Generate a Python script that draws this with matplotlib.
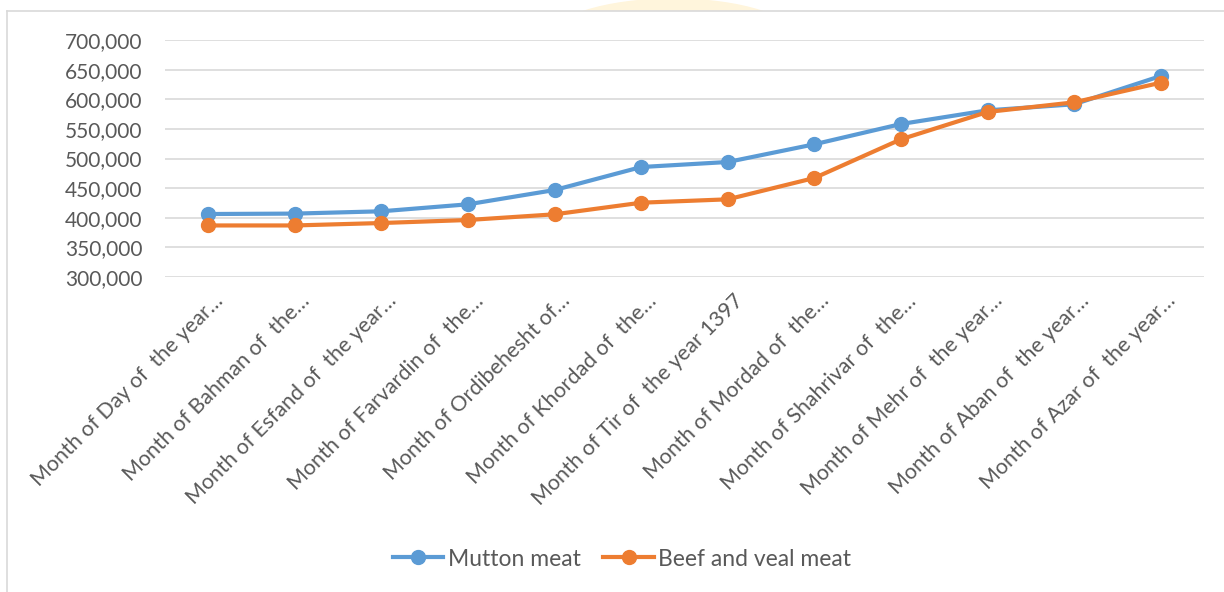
import numpy as np
import matplotlib.pyplot as plt
from matplotlib.lines import Line2D
from matplotlib.patches import Ellipse, Rectangle
from matplotlib.ticker import FuncFormatter

plt.rcParams['font.family'] = ['Lato', 'DejaVu Sans']

months = [
    "Month of Day of  the year\u2026",
    "Month of Bahman of  the\u2026",
    "Month of Esfand of  the year\u2026",
    "Month of Farvardin of  the\u2026",
    "Month of Ordibehesht of\u2026",
    "Month of Khordad of  the\u2026",
    "Month of Tir of  the year 1397",
    "Month of Mordad of  the\u2026",
    "Month of Shahrivar of  the\u2026",
    "Month of Mehr of  the year\u2026",
    "Month of Aban of  the year\u2026",
    "Month of Azar of  the year\u2026",
]
mutton = [406300, 407000, 410900, 422700, 446800, 485600,
          494100, 524000, 558200, 581300, 591500, 639200]
beef = [387000, 387000, 391100, 396200, 405800, 425400,
        431100, 467100, 532400, 578500, 594800, 627900]
yticks = [300000, 350000, 400000, 450000, 500000, 550000, 600000, 650000, 700000]

blue = '#5B9BD5'
orange = '#ED7D31'
txt = '#595959'

fig = plt.figure(figsize=(12.24, 5.92), dpi=100)

# faint watermark peeking above the chart, then the chart's white area and border
top = 1 - 11 / 592
fig.patches.append(Ellipse((673 / 1224, 1 - 40 / 592), 250 / 1224, 82 / 592,
                           transform=fig.transFigure, color='#FFF5DC', zorder=0))
fig.patches.append(Rectangle((7 / 1224, 0), 1, top, transform=fig.transFigure,
                             color='white', zorder=0.5))
fig.lines.append(Line2D([7 / 1224, 1], [top, top], transform=fig.transFigure,
                        color='#D9D9D9', lw=1.2, zorder=1))
fig.lines.append(Line2D([7 / 1224] * 2, [0, top], transform=fig.transFigure,
                        color='#D9D9D9', lw=1.2, zorder=1))

ax = fig.add_axes([165 / 1224, 1 - 277 / 592, (1204 - 165) / 1224, (277 - 40) / 592], zorder=2)
ax.set_facecolor('none')

x = np.arange(len(months))
ax.plot(x, mutton, color=blue, lw=3, marker='o', ms=10, label='Mutton meat', zorder=3)
ax.plot(x, beef, color=orange, lw=3, marker='o', ms=10, label='Beef and veal meat', zorder=4)

ax.set_xlim(-0.5, len(months) - 0.5)
ax.set_ylim(300000, 700000)
ax.set_yticks(yticks)
ax.yaxis.set_major_formatter(FuncFormatter(lambda v, p: f"{int(v):,}"))
ax.grid(axis='y', color='#D9D9D9', lw=1.2)
ax.set_axisbelow(True)
for s in ax.spines.values():
    s.set_visible(False)
ax.tick_params(axis='both', length=0, colors=txt, labelsize=15)
ax.tick_params(axis='y', pad=16)

ax.set_xticks(x)
ax.set_xticklabels(months, rotation=45, ha='right', va='top', rotation_mode='anchor',
                   fontsize=15.4)
for lab in ax.get_xticklabels():
    lab.set_color(txt)
ax.tick_params(axis='x', pad=10)
import matplotlib.transforms as mtransforms
shift = mtransforms.ScaledTranslation(5 / 100, 0, fig.dpi_scale_trans)
for lab in ax.get_xticklabels():
    lab.set_transform(lab.get_transform() + shift)

leg = fig.legend(loc='center', bbox_to_anchor=(622 / 1224, 1 - 559 / 592), ncol=2, frameon=False,
                 fontsize=16.5, handlelength=2.2, columnspacing=1.0, handletextpad=0.2)
for t in leg.get_texts():
    t.set_color(txt)

fig.savefig('out.png', dpi=100)
